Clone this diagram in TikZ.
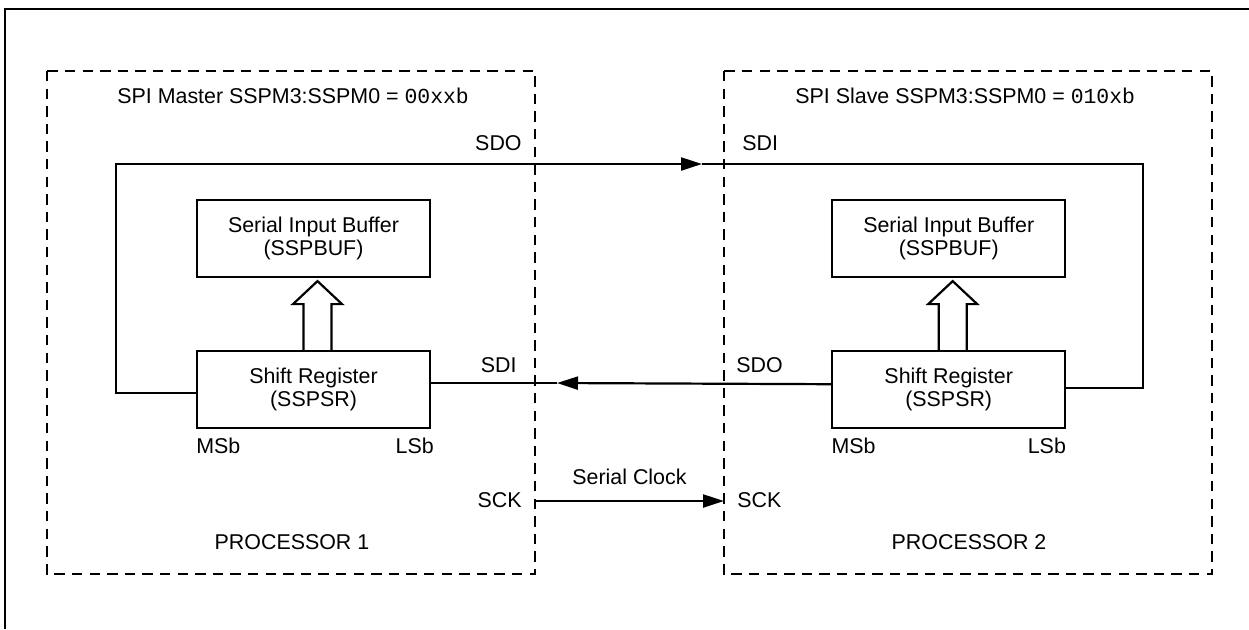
\documentclass[tikz,border=0pt]{standalone}
\usepackage{fontspec}
\setmainfont{Liberation Sans}
\setmonofont{Liberation Mono}
\usetikzlibrary{arrows.meta,positioning,calc}

\begin{document}
\begin{tikzpicture}[x=0.5pt,y=-0.5pt,font=\fontsize{10.7pt}{11.6pt}\selectfont]
      \tikzstyle{blk}=[draw,line width=1.1pt,minimum width=116.5pt,minimum height=38.5pt,align=center,inner sep=0pt]
      \tikzstyle{proc}=[draw,line width=1pt,dash pattern=on 5.2pt off 3.6pt]
      \tikzstyle{w}=[line width=1.1pt]
      \tikzstyle{tip}=[-{Triangle[length=10.5pt,width=6.5pt]}]
      \tikzstyle{lbl}=[inner sep=0pt]
      \useasboundingbox (0,0) rectangle (1249,629);
      % frame and processor areas
      \draw[w] (5,629) -- (5,9) -- (1249,9);
      \draw[proc] (47,71) rectangle (535,574);
      \draw[proc] (724,71) rectangle (1212,574);
      % registers
      \node[blk] (buf1) at (313.5,238.5) {Serial Input Buffer\\(SSPBUF)};
      \node[blk,below=36pt of buf1] (sr1) {Shift Register\\(SSPSR)};
      \node[blk,right=200pt of buf1] (buf2) {Serial Input Buffer\\(SSPBUF)};
      \node[blk,below=36pt of buf2] (sr2) {Shift Register\\(SSPSR)};
      \draw[w] ($(sr1.north)+(-10,0)$) -- ++(0,-46) -- ++(-10.5,0) -- ++(24.5,-23) -- ++(24.5,23) -- ++(-10.5,0) -- ++(0,46);
      \draw[w] ($(sr2.north)+(-10,0)$) -- ++(0,-46) -- ++(-10.5,0) -- ++(24.5,-23) -- ++(24.5,23) -- ++(-10.5,0) -- ++(0,46);
      % data lines
      \coordinate (sdoA) at (116,164);
      \coordinate (sdiB) at (702,164);
      \coordinate (sdoB) at (1143,164);
      \coordinate (sdiA) at (557,383);
      \coordinate (sckA) at (535,501);
      \coordinate (sckB) at (724,501);
      \draw[w,tip] ($(sr1.west)+(0,3.5)$) -| (sdoA) -- (sdiB);
      \draw[w] (sdiB) -- (sdoB) |- ($(sr2.east)+(0,-1.5)$);
      \draw[w,tip] ($(sr2.west)+(0,-5.5)$) -- (sdiA);
      \draw[w] (sdiA) -- (sr1.east |- sdiA);
      \draw[w,tip] (sckA) -- node[lbl,above=7.5pt]{Serial Clock} (sckB);
      % labels
      \node[lbl,anchor=base west] (ttl1) at (117,103) {SPI Master SSPM3:SSPM0 = \texttt{00xxb}};
      \node[lbl,anchor=base west] (ttl2) at (795,103) {SPI Slave SSPM3:SSPM0 = \texttt{010xb}};
      \node[lbl,anchor=base east] (sdo1) at (522,150) {SDO};
      \node[lbl,anchor=base west] (sdi2) at (742,150) {SDI};
      \node[lbl,anchor=base east] (sdi1) at (517,372) {SDI};
      \node[lbl,anchor=base west] (sdo2) at (736,372) {SDO};
      \node[lbl,anchor=base west] (msb1) at ($(sr1.south west)+(0,24)$) {MSb};
      \node[lbl,anchor=base east] (lsb1) at ($(sr1.south east)+(3,24)$) {LSb};
      \node[lbl,anchor=base west] (msb2) at ($(sr2.south west)+(0,24)$) {MSb};
      \node[lbl,anchor=base east] (lsb2) at ($(sr2.south east)+(0,24)$) {LSb};
      \node[lbl,anchor=base east] (sck1) at (522,507) {SCK};
      \node[lbl,anchor=base west] (sck2) at (737,507) {SCK};
      \node[lbl,anchor=base] (cpu1) at (292,549) {PROCESSOR 1};
      \node[lbl,anchor=base] (cpu2) at (969,549) {PROCESSOR 2};
    \end{tikzpicture}
\end{document}
